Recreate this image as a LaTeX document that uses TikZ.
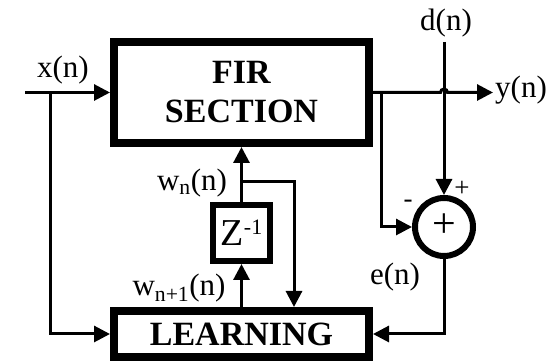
\documentclass[tikz,border=0pt]{standalone}
\usepackage{fontspec}
\setmainfont{Liberation Serif}
\usepackage{tikz}
\usetikzlibrary{arrows.meta, positioning}

\begin{document}
\begin{tikzpicture}[
        x=1pt, y=1pt,
        block/.style={rectangle, draw, line width=8pt, minimum width=255pt, align=center, font=\fontsize{34}{39}\selectfont\bfseries},
        delaybox/.style={rectangle, draw, line width=6pt, minimum width=57pt, minimum height=56pt, inner sep=0pt, font=\fontsize{38}{38}\selectfont},
        sumnode/.style={circle, draw, line width=6pt, minimum size=58pt, inner sep=0pt, font=\fontsize{42}{42}\selectfont},
        lbl/.style={font=\fontsize{31}{32}\selectfont, inner sep=0pt},
        sgn/.style={font=\fontsize{27}{28}\selectfont, inner sep=0pt},
        arrow/.style={-{Triangle[length=16pt, width=16pt]}, line width=3pt},
    ]
    \useasboundingbox (0,0) rectangle (552,361);

    % Blocks
    \node[block, minimum height=101pt] (fir) at (241.5,268.5) {FIR\\SECTION};
    \node[block, minimum height=46pt] (learn) at (241.5,27) {LEARNING};
    \node[delaybox] (zinv) at (241.5,128) {Z\raisebox{11pt}{\fontsize{22}{22}\selectfont -1}};
    \node[sumnode] (sum) at (444,134) {\raisebox{2pt}{+}};

    % Points on the wires
    \coordinate (xin) at (25,268.5);
    \coordinate (xtap) at (50,268.5);
    \coordinate (ytap) at (381,268.5);
    \coordinate (cross) at (444,268.5);
    \coordinate (yout) at (493,268.5);
    \coordinate (din) at (444,319);
    \coordinate (wn) at (241.5,179);

    % Labels
    \node[lbl] (xlab) at (63,291) {x(n)};
    \node[lbl, anchor=west] (ylab) at (495,271) {y(n)};
    \node[lbl] (dlab) at (446,338) {d(n)};
    \node[lbl] (elab) at (395,84) {e(n)};
    \node[lbl] (wnlab) at (192,178) {w\textsubscript{n}(n)};
    \node[lbl] (wn1lab) at (179,73) {w\textsubscript{n+1}(n)};
    \node[sgn] (minus) at (408,157) {-};
    \node[sgn] (plus) at (462,172) {+};

    % Edges
    \draw[arrow] (xin) -- (fir.west);
    \draw[arrow] (xtap) |- (learn.west);
    \draw[arrow] (fir.east) -- ([xshift=-3.5pt]cross) arc (180:0:3.5pt) -- (yout);
    \draw[arrow] (ytap) |- (sum.west);
    \draw[arrow] (din) -- (sum.north);
    \draw[arrow] (sum.south) |- (learn.east);
    \draw[arrow] (learn.north) -- (zinv.south);
    \draw[arrow] (zinv.north) -- (fir.south);
    \draw[arrow] (wn) -| ([xshift=52.5pt]learn.north);
\end{tikzpicture}
\end{document}
